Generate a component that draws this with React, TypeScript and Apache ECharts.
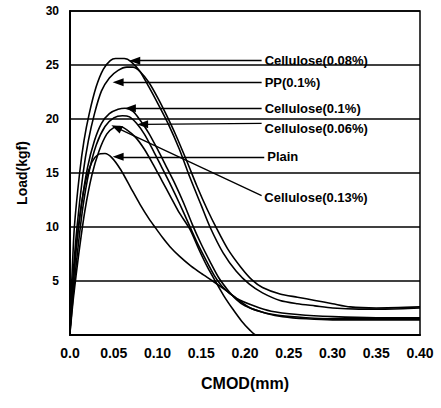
import React, { useEffect, useRef } from "react";
import * as echarts from "echarts";

const seriesNames = [
  "Cellulose(0.08%)",
  "PP(0.1%)",
  "Cellulose(0.1%)",
  "Cellulose(0.06%)",
  "Plain",
  "Cellulose(0.13%)",
];

const cellulose008 = [
  [0, 1.5], [0.002, 5], [0.005, 10], [0.011, 15], [0.016, 18], [0.022, 20.5], [0.03, 23], [0.038, 24.6],
  [0.046, 25.4], [0.052, 25.6], [0.062, 25.6], [0.07, 25.3], [0.08, 24.4], [0.09, 23], [0.1, 21.5],
  [0.112, 19.6], [0.125, 17.2], [0.137, 14.6], [0.15, 12], [0.16, 10], [0.175, 7.6], [0.19, 5.9],
  [0.205, 4.7], [0.22, 3.9], [0.24, 3.2], [0.26, 2.9], [0.28, 2.7], [0.3, 2.5], [0.33, 2.4], [0.36, 2.4], [0.4, 2.5],
];

const pp01 = [
  [0, 1], [0.003, 5], [0.008, 10], [0.015, 15], [0.021, 18], [0.028, 20.5], [0.036, 22.6], [0.045, 23.8],
  [0.055, 24.5], [0.065, 24.8], [0.072, 24.8], [0.08, 24.4], [0.09, 23.4], [0.1, 22], [0.11, 20.4],
  [0.121, 18.5], [0.133, 16.2], [0.145, 13.8], [0.157, 11.6], [0.168, 9.8], [0.18, 8], [0.195, 6.3],
  [0.208, 5.1], [0.22, 4.4], [0.24, 3.8], [0.26, 3.5], [0.28, 3.2], [0.3, 2.9], [0.32, 2.6], [0.35, 2.5], [0.4, 2.6],
];

const cellulose01 = [
  [0, 0.5], [0.003, 4], [0.007, 8], [0.013, 12], [0.02, 15.5], [0.028, 18], [0.036, 19.6], [0.045, 20.5],
  [0.055, 20.9], [0.063, 21], [0.072, 20.7], [0.08, 19.9], [0.09, 18.7], [0.1, 17.2], [0.11, 15.6],
  [0.12, 14], [0.13, 12.2], [0.14, 10.2], [0.15, 8.4], [0.16, 6.8], [0.17, 5.3], [0.18, 4.2], [0.19, 3.3],
  [0.2, 2.7], [0.22, 2.1], [0.24, 1.8], [0.27, 1.6], [0.3, 1.5], [0.4, 1.5],
];

const cellulose006 = [
  [0, 0.3], [0.004, 4], [0.009, 8], [0.015, 12], [0.022, 15.2], [0.03, 17.6], [0.04, 19.3], [0.05, 20.1],
  [0.06, 20.3], [0.068, 20.2], [0.076, 19.6], [0.085, 18.6], [0.095, 17.1], [0.105, 15.5], [0.115, 13.9],
  [0.125, 12.2], [0.135, 10.4], [0.145, 8.6], [0.155, 7], [0.165, 5.5], [0.175, 4.4], [0.19, 3.4],
  [0.21, 2.7], [0.23, 2.2], [0.26, 1.9], [0.3, 1.7], [0.35, 1.6], [0.4, 1.6],
];

const plain = [
  [0, 0.5], [0.003, 4], [0.007, 8], [0.012, 11.5], [0.018, 14.3], [0.025, 16], [0.032, 16.7], [0.04, 16.8],
  [0.048, 16.4], [0.058, 15.3], [0.069, 13.7], [0.08, 12.1], [0.09, 10.8], [0.097, 10], [0.106, 9],
  [0.114, 8.2], [0.125, 7.3], [0.138, 6.4], [0.15, 5.7], [0.163, 5], [0.177, 4.2], [0.19, 3.4],
  [0.206, 2.5], [0.225, 2], [0.243, 1.7], [0.27, 1.5], [0.3, 1.4], [0.35, 1.4], [0.4, 1.4],
];

const cellulose013 = [
  [0, 0.2], [0.004, 3.5], [0.01, 7.5], [0.017, 11.5], [0.025, 14.8], [0.033, 17], [0.042, 18.6], [0.05, 19.2],
  [0.057, 19.3], [0.065, 19], [0.075, 18.3], [0.085, 17.2], [0.095, 15.8], [0.105, 14.3], [0.115, 12.8],
  [0.125, 11.3], [0.137, 9.8], [0.148, 7.8], [0.157, 6.3], [0.166, 5], [0.176, 3.6], [0.186, 2.4],
  [0.196, 1.3], [0.205, 0.5], [0.213, 0], [0.3, 0], [0.4, 0],
];

const seriesData = [cellulose008, pp01, cellulose01, cellulose006, plain, cellulose013];

// annotation arrows: tip (arrowhead) and end (where label begins), in data units
const arrowTips = [[0.074, 25.4], [0.055, 23.4], [0.069, 21.0], [0.083, 19.5], [0.055, 16.5], [0.053, 19.2]];
const arrowEnds = [[0.219, 25.4], [0.219, 23.4], [0.219, 21.0], [0.219, 19.6], [0.222, 16.5], [0.219, 12.9]];
const labelOffsets = [[0, 0], [0, 0], [0, 0], [0, 5], [0, 0], [0, 1]];

const yTicks = [0, 5, 10, 15, 20, 25, 30];
const xTickLabels = ["0.0", "0.05", "0.10", "0.15", "0.20", "0.25", "0.30", "0.35", "0.40"];

const FONT = "'Liberation Sans', Arial, sans-serif";

export default function App() {
  const ref = useRef<HTMLDivElement>(null);
  useEffect(() => {
    if (!ref.current) return;
    const chart = echarts.init(ref.current, null, { renderer: "svg" });
    const series = seriesNames.map((name, i) => ({
      name,
      type: "line",
      data: seriesData[i],
      showSymbol: false,
      smooth: 0.25,
      lineStyle: { color: "#000", width: 1.6 },
      z: 3,
      markLine: {
        silent: true,
        animation: false,
        symbolSize: [8, 11],
        itemStyle: { color: "#000" },
        lineStyle: { color: "#000", width: 1.3, type: "solid" },
        label: {
          show: true,
          position: "end",
          distance: 3,
          formatter: name,
          color: "#000",
          fontSize: 13,
          fontWeight: "bold",
          fontFamily: FONT,
          offset: labelOffsets[i],
        },
        data: [
          [
            { coord: arrowTips[i], symbol: "triangle" },
            { coord: arrowEnds[i], symbol: "none" },
          ],
        ],
      },
    }));
    chart.setOption({
      animation: false,
      backgroundColor: "#fff",
      grid: {
        left: 70,
        right: 21,
        top: 11,
        bottom: 73,
        show: true,
        borderColor: "#000",
        borderWidth: 1.5,
      },
      xAxis: {
        type: "value",
        min: 0,
        max: 0.4,
        interval: 0.05,
        name: "CMOD(mm)",
        nameLocation: "middle",
        nameGap: 40,
        nameTextStyle: { color: "#000", fontSize: 16, fontWeight: "bold", fontFamily: FONT },
        axisLine: { show: true, lineStyle: { color: "#000", width: 2 } },
        axisTick: { show: false },
        splitLine: { show: false },
        axisLabel: {
          color: "#000",
          fontSize: 14,
          fontWeight: "bold",
          fontFamily: FONT,
          margin: 11,
          formatter: (v: number) => xTickLabels[Math.round(v / 0.05)] ?? "",
        },
      },
      yAxis: {
        type: "value",
        min: yTicks[0],
        max: yTicks[yTicks.length - 1],
        interval: 5,
        name: "Load(kgf)",
        nameLocation: "middle",
        nameGap: 41,
        nameTextStyle: { color: "#000", fontSize: 14, fontWeight: "bold", fontFamily: FONT },
        axisLine: { show: true, lineStyle: { color: "#000", width: 2 } },
        axisTick: { show: false },
        splitLine: { show: true, lineStyle: { color: "#000", width: 1.5 } },
        axisLabel: {
          color: "#000",
          fontSize: 12,
          fontWeight: "bold",
          fontFamily: FONT,
          margin: 11,
          formatter: (v: number) => (v === 0 ? "" : String(v)),
        },
      },
      series,
    });
    return () => chart.dispose();
  }, []);
  return <div ref={ref} style={{ width: 441, height: 408, position: "absolute", left: 0, top: 0 }} />;
}
